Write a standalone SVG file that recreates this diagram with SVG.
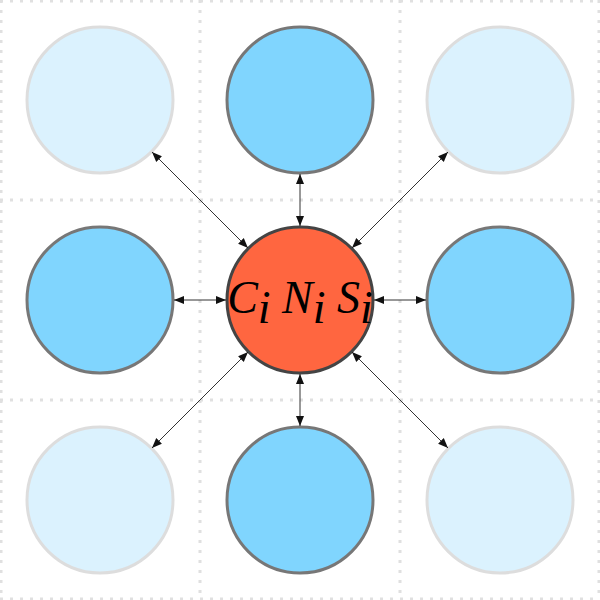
<svg xmlns="http://www.w3.org/2000/svg" width="600" height="600" viewBox="0 0 600 600">
<style>
.grid{stroke:#e0e0e0;stroke-width:3;stroke-dasharray:3 7;fill:none}
.faded{fill:#dbf2fe;stroke:#dddddd;stroke-width:3}
.near{fill:#80d5fe;stroke:#777777;stroke-width:3}
.center{fill:#ff6640;stroke:#444444;stroke-width:3}
.conn{stroke:#333;stroke-width:1;fill:none;marker-start:url(#ah);marker-end:url(#ah)}
.lbl{font-family:"Liberation Serif","Times New Roman",serif;font-style:italic;font-size:46px;fill:#000}
</style>
<defs>
<marker id="ah" viewBox="0 0 10 10" refX="10" refY="5" markerWidth="10" markerHeight="10" markerUnits="userSpaceOnUse" orient="auto-start-reverse">
<path d="M0,1 L10,5 L0,9 Z" fill="#111"/>
</marker>
</defs>
<rect width="600" height="600" fill="#fff"/>
<g id="grid">
<path class="grid" d="M1,0V600M200,0V600M400,0V600M599,0V600M0,1H600M0,200H600M0,400H600M0,599H600"/>
</g>
<g id="n00"><circle class="faded" cx="100" cy="100" r="73"/></g>
<g id="n01"><circle class="near" cx="300" cy="100" r="73"/></g>
<g id="n02"><circle class="faded" cx="500" cy="100" r="73"/></g>
<g id="n10"><circle class="near" cx="100" cy="300" r="73"/></g>
<g id="n12"><circle class="near" cx="500" cy="300" r="73"/></g>
<g id="n20"><circle class="faded" cx="100" cy="500" r="73"/></g>
<g id="n21"><circle class="near" cx="300" cy="500" r="73"/></g>
<g id="n22"><circle class="faded" cx="500" cy="500" r="73"/></g>
<g id="n11">
<circle class="center" cx="300" cy="300" r="73"/>
<text class="lbl" x="300" y="313" text-anchor="middle">C<tspan dy="10">i</tspan><tspan dy="-10"> N</tspan><tspan dy="10">i</tspan><tspan dy="-10"> S</tspan><tspan dy="10">i</tspan></text>
</g>
<g id="connectors">
<line class="conn" x1="152" y1="152" x2="248" y2="248"/>
<line class="conn" x1="300" y1="174" x2="300" y2="226"/>
<line class="conn" x1="448" y1="152" x2="352" y2="248"/>
<line class="conn" x1="174" y1="300" x2="226" y2="300"/>
<line class="conn" x1="426" y1="300" x2="374" y2="300"/>
<line class="conn" x1="152" y1="448" x2="248" y2="352"/>
<line class="conn" x1="300" y1="426" x2="300" y2="374"/>
<line class="conn" x1="448" y1="448" x2="352" y2="352"/>
</g>
</svg>
